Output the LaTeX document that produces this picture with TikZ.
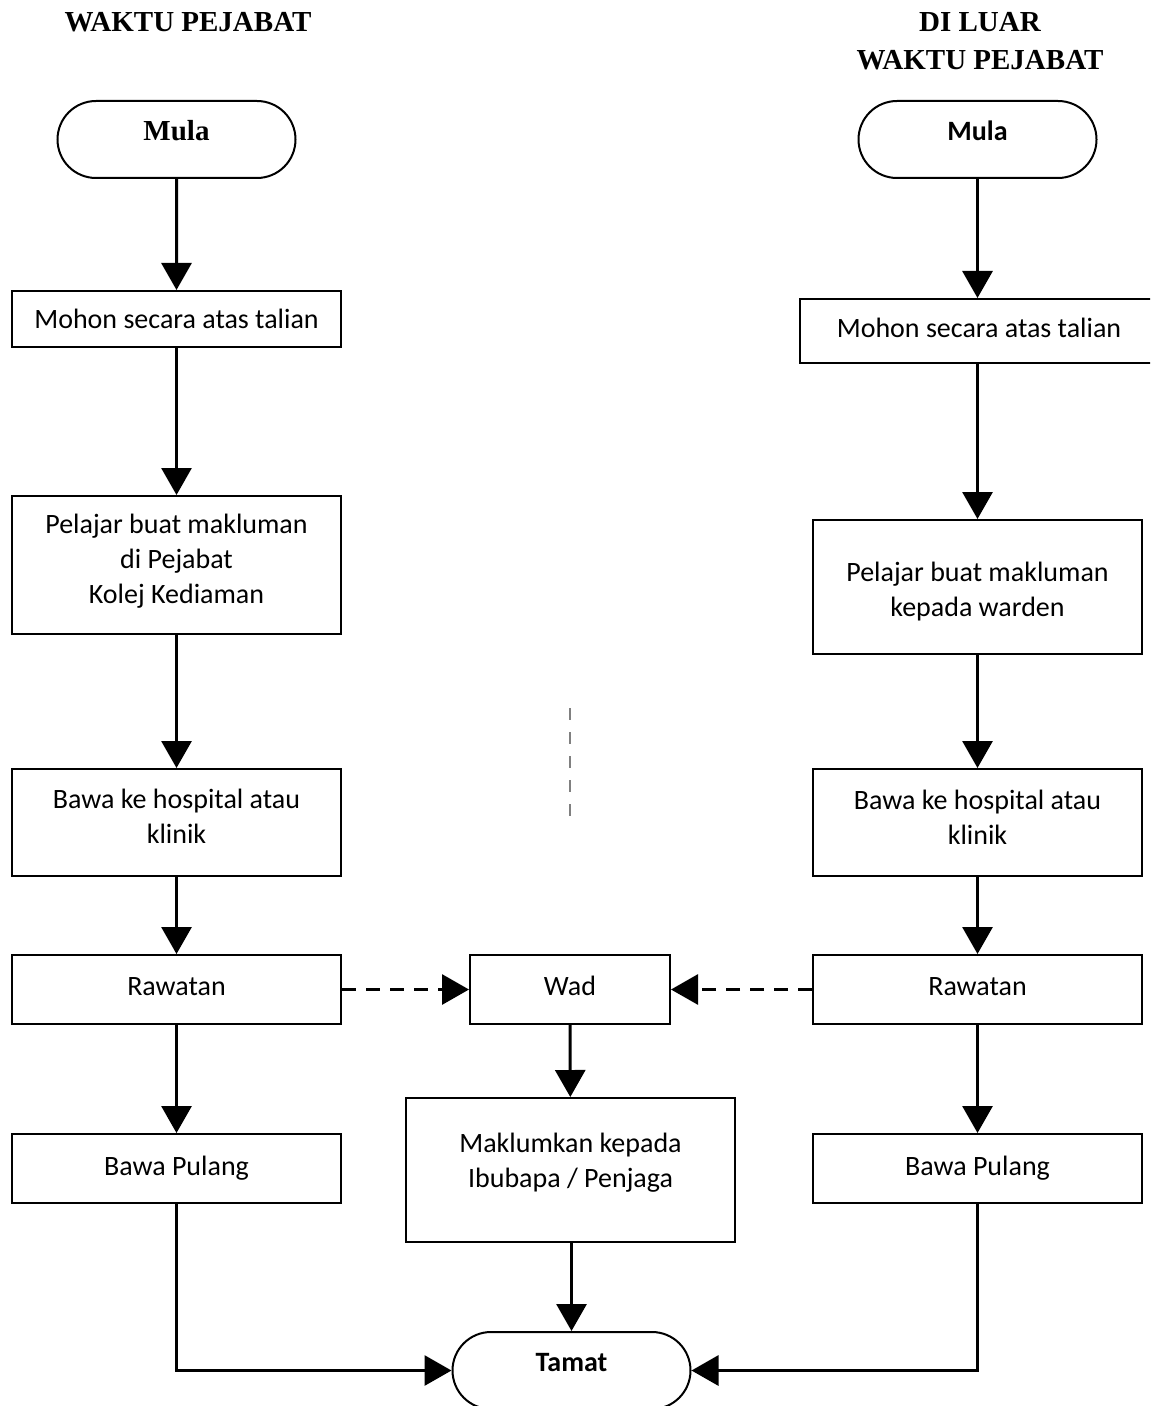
\documentclass[tikz,border=0pt]{standalone}
\usepackage{fontspec}
\setmainfont{Liberation Serif}
\newfontfamily\boxfont{Carlito}
\usetikzlibrary{arrows.meta,shapes.misc}
\tikzset{
  px/.style={x=0.5pt,y=-0.5pt},
  box/.style={draw,line width=1pt,rectangle,inner sep=0pt,minimum width=164.5pt,align=center,
    font=\boxfont\fontsize{14}{17.5}\selectfont},
  term/.style={draw,line width=1pt,rounded rectangle,inner sep=0pt,minimum width=119pt,minimum height=38.5pt},
  title/.style={font=\bfseries\fontsize{14.5}{19}\selectfont,align=center},
  conn/.style={line width=1.5pt,-{Triangle[length=13.5pt,width=15pt]}},
  dconn/.style={conn,dash pattern=on 7pt off 5pt},
}
\newcommand{\stk}[1]{\begin{tabular}{@{}c@{}}#1\end{tabular}}
\newcommand{\up}[2]{\raisebox{#1}[\height][\depth]{#2}}
\begin{document}
\begin{tikzpicture}[px]
\useasboundingbox (0,0) rectangle (1150,1406);
\clip (0,0) rectangle (1150,1406);
\fill[white] (0,0) rectangle (1150,1406);
% titles
\node[title] (tL) at (188,22) {WAKTU PEJABAT};
\node[title] (tR) at (980,41) {DI LUAR\\WAKTU PEJABAT};
% left column
\node[term,font=\bfseries\fontsize{14.5}{17}\selectfont] (mulaL) at (176.5,139.5) {\up{4.3pt}{Mula}};
\node[box,minimum height=28pt] (mohonL) at (176.5,319) {Mohon secara atas talian};
\node[box,minimum height=69pt] (pelL) at (176.5,565) {\up{1.75pt}{\stk{Pelajar buat makluman\\di Pejabat\\Kolej Kediaman}}};
\node[box,minimum height=53.5pt] (bawaL) at (176.5,822.5) {\up{2pt}{\stk{Bawa ke hospital atau\\klinik}}};
\node[box,minimum height=34.5pt] (rawL) at (176.5,989.5) {\up{1.5pt}{Rawatan}};
\node[box,minimum height=34.5pt] (pulL) at (176.5,1168.5) {Bawa Pulang};
% right column
\node[term,font=\boxfont\bfseries\fontsize{14}{17}\selectfont] (mulaR) at (977.5,139.5) {\up{4.3pt}{Mula}};
\node[box,minimum width=179pt,minimum height=32pt] (mohonR) at (979,331) {\up{1.5pt}{Mohon secara atas talian}};
\node[box,minimum height=67pt] (pelR) at (977.5,587) {\up{-2.25pt}{\stk{Pelajar buat makluman\\kepada warden}}};
\node[box,minimum height=53.5pt] (bawaR) at (977.5,822.5) {\up{1.5pt}{\stk{Bawa ke hospital atau\\klinik}}};
\node[box,minimum height=34.5pt] (rawR) at (977.5,989.5) {\up{1.5pt}{Rawatan}};
\node[box,minimum height=34.5pt] (pulR) at (977.5,1168.5) {Bawa Pulang};
% middle
\node[box,minimum width=100pt,minimum height=34.5pt] (wad) at (570,989.5) {\up{2pt}{Wad}};
\node[box,minimum height=72pt] (mak) at (570.5,1170) {\up{3.75pt}{\stk{Maklumkan kepada\\Ibubapa / Penjaga}}};
\node[term,font=\boxfont\bfseries\fontsize{14}{17}\selectfont] (tamat) at (571.5,1370.5) {\up{4pt}{Tamat}};
% connectors left
\draw[conn] (mulaL) -- (mohonL);
\draw[conn] (mohonL) -- (pelL);
\draw[conn] (pelL) -- (bawaL);
\draw[conn] (bawaL) -- (rawL);
\draw[conn] (rawL) -- (pulL);
\draw[conn] (pulL.south) |- (tamat.west);
% connectors right
\draw[conn] (mulaR.south) -- (mulaR.south |- mohonR.north);
\draw[conn] (mulaR.south |- mohonR.south) -- (pelR.north);
\draw[conn] (pelR) -- (bawaR);
\draw[conn] (bawaR) -- (rawR);
\draw[conn] (rawR) -- (pulR);
\draw[conn] (pulR.south) |- (tamat.east);
% middle connectors
\draw[dconn] (rawL.east) -- (wad.west);
\draw[dconn] (rawR.west) -- (wad.east);
\draw[conn] (wad) -- (mak);
\draw[conn] (mak.south -| tamat.north) -- (tamat.north);
% faint dashed mark
\coordinate (ma) at (570,708);
\coordinate (mb) at (570,822);
\draw[gray,line width=0.6pt,dash pattern=on 6pt off 6pt] (ma) -- (mb);
\end{tikzpicture}
\end{document}
